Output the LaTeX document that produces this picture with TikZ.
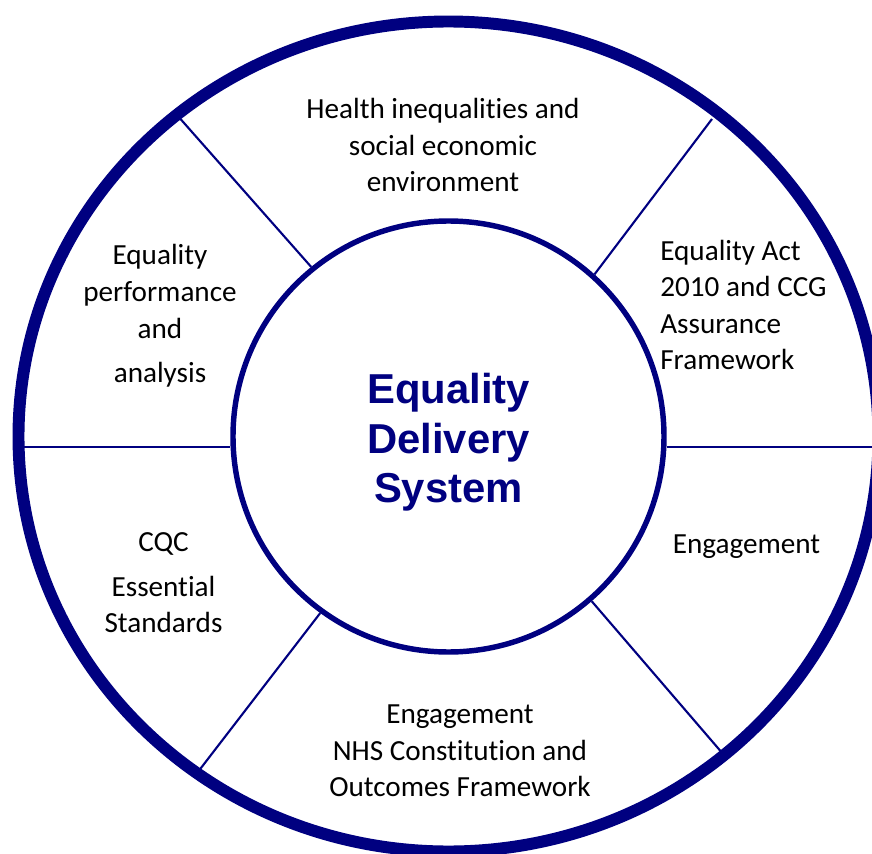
\documentclass[tikz,border=0pt]{standalone}
\usepackage{fontspec}
\setmainfont{Carlito}[Ligatures={NoCommon,NoRequired,NoContextual}]
\newfontfamily\hubfont{Liberation Sans}
\definecolor{edsblue}{RGB}{0,0,128}
\begin{document}
\begin{tikzpicture}[
    ring/.style={draw=edsblue, line width=6.8pt},
    spoke/.style={draw=edsblue, line width=1.2pt},
    hub/.style={circle, draw=edsblue, line width=3.1pt, fill=white,
      minimum size=8.62cm, inner sep=0pt},
    title/.style={align=center, text=edsblue, inner sep=0pt,
      font=\hubfont\bfseries\fontsize{23.8}{28.2}\selectfont},
    sector/.style={align=center, inner sep=0pt,
      font=\fontsize{16.6}{20.8}\selectfont}]
  \useasboundingbox (-8.97,8.73) rectangle (8.47,-8.33);
  \node[hub] (hub) at (0,0) {};
  \node[title] (eds) at (0,-0.12) {Equality\\Delivery\\System};
  % where the spokes meet the outer ring
  \coordinate (ul) at (-5.36,6.35);
  \coordinate (ur) at (5.27,6.35);
  \coordinate (ll) at (-5.02,-6.72);
  \coordinate (lr) at (5.50,-6.36);
  \coordinate (l) at (-8.6,-0.21);
  \coordinate (r) at (8.9,-0.21);
  \draw[spoke] (hub.129.7) -- (ul);
  \draw[spoke] (hub.48.9) -- (ur);
  \draw[spoke] (hub.234.8) -- (ll);
  \draw[spoke] (hub.311.3) -- (lr);
  \draw[spoke] (l -| hub.west) -- (l);
  \draw[spoke] (r -| hub.east) -- (r);
  \draw[ring] (0,0) ellipse [x radius=8.6, y radius=8.3];
  % sector texts
  \node[sector] (health) at (-0.11,5.83) {Health inequalities and\\social economic\\environment};
  \node[sector] (perf) at (-5.77,2.41) {Equality\\performance\\and\\[4.5pt]analysis};
  \node[sector, anchor=west, align=left] (act) at (4.23,2.63) {Equality Act\\2010 and CCG\\Assurance\\Framework};
  \node[sector] (engage) at (5.96,-2.2) {Engagement};
  \node[sector] (cqc) at (-5.70,-2.93) {CQC\\[4.5pt]Essential\\Standards};
  \node[sector] (nhs) at (0.23,-6.29) {Engagement\\NHS Constitution and\\Outcomes Framework};
\end{tikzpicture}
\end{document}
